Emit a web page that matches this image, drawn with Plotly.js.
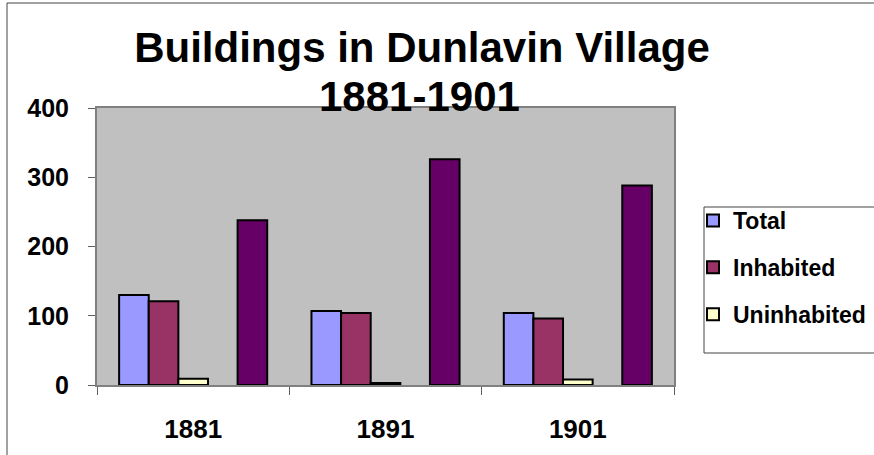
<!DOCTYPE html>
<html>
<head>
<meta charset="utf-8">
<script src="https://cdn.plot.ly/plotly-3.0.1.min.js"></script>
<style>html,body{margin:0;padding:0;background:#fff;}#chart{width:874px;height:455px;}</style>
</head>
<body>
<div id="chart"></div>
<script>
// Data
var years = ['1881', '1891', '1901'];
var total = [130, 107, 104];
var inhabited = [121, 104, 96];
var uninhabited = [9, 3, 8];
var emptySeries = [null, null, null];   // empty slot in each group (no legend entry)
var unlabelled = [238, 326, 288];       // dark purple series with no legend entry
var yTicks = [0, 100, 200, 300, 400];
var titleLine1 = 'Buildings in Dunlavin Village';
var titleLine2 = '1881-1901';

var FONT = 'Liberation Sans, Arial, sans-serif';
var outline = {color: '#000000', width: 2};

var traces = [
  {type: 'bar', name: 'Total', x: years, y: total, legendgroup: 'a',
   marker: {color: '#9999FF', line: outline}},
  {type: 'bar', name: 'Inhabited', x: years, y: inhabited, legendgroup: 'b',
   marker: {color: '#993366', line: outline}},
  {type: 'bar', name: 'Uninhabited', x: years, y: uninhabited, legendgroup: 'c',
   marker: {color: '#FFFFCC', line: outline}},
  {type: 'bar', name: '', x: years, y: emptySeries, showlegend: false,
   marker: {color: '#C0C0C0', line: outline}},
  {type: 'bar', name: '', x: years, y: unlabelled, showlegend: false,
   marker: {color: '#660066', line: outline}}
];

function px(x) { return (x - 97) / 577; }
function py(y) { return (385 - y) / 277; }

var layout = {
  width: 874, height: 455,
  margin: {l: 97, r: 200, t: 108, b: 70, pad: 0, autoexpand: false},
  paper_bgcolor: '#FFFFFF',
  plot_bgcolor: '#C0C0C0',
  font: {family: FONT, color: '#000000'},
  barmode: 'group',
  bargap: 0.23,
  bargroupgap: 0,
  hovermode: false,
  title: {
    text: titleLine1,
    font: {family: FONT, size: 42, weight: 'bold', color: '#000000'},
    xref: 'container', x: 422 / 874, xanchor: 'center',
    yref: 'container', y: 1 - 33 / 455, yanchor: 'top',
    automargin: false
  },
  annotations: [
    {text: titleLine2, showarrow: false,
     xref: 'paper', x: px(419), xanchor: 'center',
     yref: 'paper', y: py(96), yanchor: 'middle',
     font: {family: FONT, size: 42, weight: 'bold', color: '#000000'}}
  ],
  xaxis: {
    type: 'category',
    tickson: 'boundaries',
    ticks: 'outside', ticklen: 8, tickwidth: 1, tickcolor: '#606060',
    showline: true, linecolor: '#808080', linewidth: 2, mirror: true,
    showgrid: false, zeroline: false,
    tickfont: {family: FONT, size: 26, weight: 'bold', color: '#000000'},
    ticklabelstandoff: 20
  },
  yaxis: {
    range: [0, 400],
    tickvals: yTicks,
    ticks: 'outside', ticklen: 7, tickwidth: 1, tickcolor: '#606060',
    showline: true, linecolor: '#808080', linewidth: 2, mirror: true,
    showgrid: false, zeroline: false,
    tickfont: {family: FONT, size: 25, weight: 'bold', color: '#000000'},
    ticklabelstandoff: 14
  },
  showlegend: true,
  legend: {
    x: px(693), xanchor: 'left',
    y: py(199), yanchor: 'top',
    bgcolor: 'rgba(0,0,0,0)', borderwidth: 0,
    traceorder: 'grouped', tracegroupgap: 14,
    font: {family: FONT, size: 23, weight: 'bold', color: '#000000'}
  },
  shapes: [
    {type: 'rect', xref: 'paper', yref: 'paper',
     x0: px(704), x1: px(890), y0: py(353), y1: py(207),
     line: {color: '#444444', width: 1}, fillcolor: 'rgba(0,0,0,0)', layer: 'below'},
    {type: 'rect', xref: 'paper', yref: 'paper',
     x0: px(7), x1: px(900), y0: py(470), y1: py(3),
     line: {color: '#444444', width: 1}, fillcolor: 'rgba(0,0,0,0)', layer: 'below'}
  ]
};

Plotly.newPlot('chart', traces, layout, {displayModeBar: false, staticPlot: true});
</script>
</body>
</html>
